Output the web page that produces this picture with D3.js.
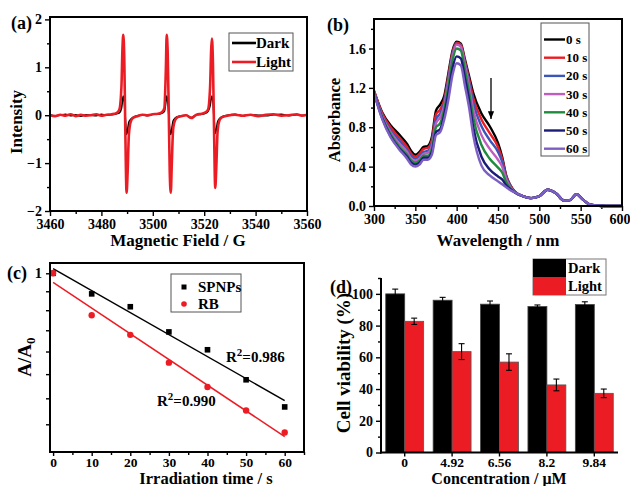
<!DOCTYPE html>
<html><head><meta charset="utf-8">
<script src="https://cdn.jsdelivr.net/npm/d3@7"></script>
<style>
body{margin:0;background:#fff}
svg{display:block;background:#fff}
text{font-family:"Liberation Serif","Times New Roman",serif;font-weight:bold;fill:#000}
</style></head><body>
<svg id="chart" width="630" height="486"></svg>
<script>
// ---------- Panel (a): EPR spectra ----------
const eprField = [3460,3462,3464,3466,3468,3470,3472,3474,3476,3478,3480,3482,3484,3486,3487,3487.8,3488.2,3488.5,3488.9,3489.3,3489.8,3490.2,3490.7,3491.5,3492.5,3494,3496,3498,3500,3502,3503.5,3504.5,3505.1,3505.4,3505.8,3506.2,3506.6,3507.0,3507.4,3507.9,3508.7,3509.7,3511,3513,3515,3516,3517,3519,3520.5,3521.5,3522.3,3522.7,3523.0,3523.4,3523.8,3524.3,3524.7,3525.2,3526,3527,3529,3532,3535,3538,3541,3544,3547,3550,3553,3556,3558,3560];
const eprLight = [0.0,-0.02,0.01,-0.01,0.02,-0.02,0.01,-0.01,0.0,0.02,-0.01,0.01,0.02,0.05,0.12,0.6,1.4,1.68,1.2,-0.3,-1.62,-1.2,-0.4,-0.12,-0.05,-0.02,0.01,0.0,0.02,0.03,0.06,0.15,1.0,1.68,1.3,0.1,-1.2,-1.62,-1.0,-0.3,-0.1,-0.04,-0.02,0.0,-0.06,-0.03,0.01,0.03,0.06,0.12,0.6,1.35,1.6,1.1,-0.2,-1.52,-1.1,-0.35,-0.1,-0.04,-0.01,0.01,-0.01,0.01,-0.02,0.01,0.02,-0.01,0.0,0.02,-0.01,0.01];
const eprDark = [0.01,-0.01,0.0,0.02,-0.01,0.01,-0.02,0.01,0.0,-0.01,0.02,0.0,0.01,0.03,0.05,0.14,0.3,0.4,0.28,-0.05,-0.4,-0.3,-0.14,-0.08,-0.04,-0.01,0.01,-0.01,0.02,0.02,0.04,0.08,0.28,0.4,0.3,0.02,-0.3,-0.4,-0.28,-0.12,-0.06,-0.03,-0.01,0.0,-0.05,-0.02,0.01,0.02,0.04,0.08,0.2,0.34,0.4,0.28,-0.05,-0.38,-0.3,-0.14,-0.07,-0.03,0.0,0.02,-0.01,0.01,0.0,-0.01,0.01,0.02,-0.01,0.01,0.0,0.0];
const eprXTicks = [3460,3480,3500,3520,3540,3560];
const eprYTicks = [-2,-1,0,1,2];

// ---------- Panel (b): UV-vis spectra ----------
const uvWavelength = [300,310,320,330,340,345,350,355,360,365,370,375,380,385,390,395,400,405,410,415,420,430,440,450,455,460,465,470,480,490,500,510,520,530,537,545,552,560,570,580,590,600];
const uvLabels = ["0 s","10 s","20 s","30 s","40 s","50 s","60 s"];
const uv0  = [1.17,0.95,0.82,0.73,0.63,0.56,0.52,0.55,0.60,0.61,0.70,0.97,1.03,1.12,1.35,1.58,1.67,1.65,1.49,1.32,1.15,0.94,0.81,0.64,0.50,0.31,0.21,0.15,0.10,0.08,0.10,0.165,0.13,0.055,0.06,0.12,0.07,0.02,0.005,0,0,0];
const uv10 = [1.17,0.94,0.80,0.70,0.60,0.53,0.50,0.53,0.58,0.59,0.67,0.93,0.98,1.08,1.32,1.56,1.66,1.64,1.47,1.29,1.10,0.88,0.74,0.60,0.48,0.30,0.21,0.15,0.10,0.08,0.10,0.165,0.13,0.055,0.06,0.12,0.07,0.02,0.005,0,0,0];
const uv20 = [1.16,0.92,0.77,0.67,0.57,0.51,0.48,0.50,0.55,0.56,0.64,0.88,0.94,1.05,1.29,1.54,1.65,1.62,1.45,1.26,1.05,0.81,0.67,0.55,0.45,0.29,0.20,0.15,0.10,0.08,0.10,0.165,0.13,0.055,0.06,0.12,0.07,0.02,0.005,0,0,0];
const uv30 = [1.16,0.91,0.75,0.64,0.55,0.48,0.46,0.48,0.53,0.54,0.61,0.84,0.90,1.02,1.26,1.52,1.64,1.62,1.43,1.22,0.98,0.72,0.58,0.47,0.40,0.27,0.19,0.14,0.10,0.08,0.10,0.165,0.13,0.055,0.06,0.12,0.07,0.02,0.005,0,0,0];
const uv40 = [1.15,0.90,0.73,0.61,0.52,0.46,0.44,0.46,0.51,0.51,0.58,0.80,0.84,0.98,1.22,1.48,1.60,1.58,1.38,1.16,0.90,0.62,0.48,0.39,0.34,0.24,0.18,0.14,0.10,0.08,0.10,0.165,0.13,0.055,0.06,0.12,0.07,0.02,0.005,0,0,0];
const uv50 = [1.15,0.89,0.71,0.59,0.50,0.44,0.42,0.44,0.49,0.49,0.55,0.75,0.78,0.93,1.15,1.40,1.52,1.50,1.30,1.08,0.80,0.50,0.37,0.30,0.27,0.21,0.17,0.14,0.10,0.08,0.10,0.165,0.13,0.055,0.06,0.12,0.07,0.02,0.005,0,0,0];
const uv60 = [1.15,0.88,0.70,0.58,0.48,0.42,0.40,0.42,0.47,0.47,0.52,0.72,0.75,0.88,1.08,1.33,1.45,1.43,1.22,1.00,0.72,0.41,0.31,0.25,0.22,0.19,0.16,0.14,0.10,0.08,0.10,0.165,0.13,0.055,0.06,0.12,0.07,0.02,0.005,0,0,0];
const uvColors = ["#000000","#ec1c24","#3c55b8","#c05ec0","#1e8c3c","#1c1c78","#7d5fc4"];
const uvXTicks = [300,350,400,450,500,550,600];
const uvYTicks = [0,0.4,0.8,1.2,1.6];

// ---------- Panel (c): kinetics ----------
const timeC = [0,10,20,30,40,50,60];
const spnps = [1,0.943,0.909,0.846,0.804,0.738,0.683];
const rb = [1,0.887,0.839,0.775,0.723,0.676,0.635];
const kinXTicks = [0,10,20,30,40,50,60];
const kinYTicks = [1,0.95,0.9,0.85,0.8,0.75,0.7,0.65];
const r2Labels = ["0.986","0.990"];

// ---------- Panel (d): cell viability ----------
const conc = ["0","4.92","6.56","8.2","9.84"];
const darkVal = [100,96,93.5,92,93.3];
const darkErr = [3,1.8,2,1,1.7];
const lightVal = [82.7,63.6,57,42.6,37.3];
const lightErr = [2,5,5.2,3.7,2.7];
const cellYTicks = [0,20,40,60,80,100];

const svg = d3.select("#chart");
const RED = "#ec1c24";

function styleAxis(g, size, fs){
  g.select(".domain").remove();
  g.selectAll(".tick line").attr("stroke","#000").attr("stroke-width",1.4);
  g.selectAll(".tick text").style("font-size",fs+"px").style("font-family",'"Liberation Serif","Times New Roman",serif').style("font-weight","bold");
}
function frame(x0,y0,x1,y1){
  svg.append("rect").attr("x",x0).attr("y",y0).attr("width",x1-x0).attr("height",y1-y0)
    .attr("fill","none").attr("stroke","#000").attr("stroke-width",2);
}
function txt(x,y,s,fs,anchor,rot){
  const t = svg.append("text").attr("x",x).attr("y",y).style("font-size",fs+"px").attr("text-anchor",anchor||"start").text(s);
  if(rot) t.attr("transform",`rotate(-90,${x},${y})`);
  return t;
}
function minorRange(a,b,step){const r=[];for(let v=a;v<=b+1e-9;v+=step)r.push(+v.toFixed(6));return r;}

// ===== Panel (a) =====
{
  const x = d3.scaleLinear().domain([3460,3560]).range([50,307]);
  const y = d3.scaleLinear().domain([-2,2.05]).range([211,17]);
  const gx = svg.append("g").attr("transform","translate(0,211)")
    .call(d3.axisBottom(x).tickValues(eprXTicks).tickFormat(d3.format("d")).tickSize(5).tickPadding(3));
  styleAxis(gx,5,14);
  const gxm = svg.append("g").attr("transform","translate(0,211)")
    .call(d3.axisBottom(x).tickValues(minorRange(3470,3550,20)).tickFormat("").tickSize(3));
  styleAxis(gxm,3,14);
  const gy = svg.append("g").attr("transform","translate(50,0)")
    .call(d3.axisLeft(y).tickValues(eprYTicks).tickFormat(d3.format("d")).tickSize(5).tickPadding(3));
  styleAxis(gy,5,14);
  const gym = svg.append("g").attr("transform","translate(50,0)")
    .call(d3.axisLeft(y).tickValues([-1.5,-0.5,0.5,1.5]).tickFormat("").tickSize(3));
  styleAxis(gym,3,14);
  const line = d3.line().x((d,i)=>x(eprField[i])).y(d=>y(d)).curve(d3.curveMonotoneX);
  svg.append("path").datum(eprDark).attr("d",line).attr("fill","none").attr("stroke","#000").attr("stroke-width",1.6);
  svg.append("path").datum(eprLight).attr("d",line).attr("fill","none").attr("stroke",RED).attr("stroke-width",2.6);
  frame(50,17,307,211);
  svg.append("rect").attr("x",229).attr("y",33).attr("width",64).attr("height",38).attr("fill","#fff").attr("stroke","#555").attr("stroke-width",1);
  [["Dark","#000"],["Light",RED]].forEach((d,i)=>{
    const yy = 43+i*19;
    svg.append("line").attr("x1",232).attr("x2",256).attr("y1",yy).attr("y2",yy).attr("stroke",d[1]).attr("stroke-width",2.6);
    txt(256,yy+5,d[0],15);
  });
  txt(11,29,"(a)",18);
  txt(22,122,"Intensity",17,"middle",true);
  txt(178,246,"Magnetic Field / G",17,"middle");
}

// ===== Panel (b) =====
{
  const x = d3.scaleLinear().domain([300,600]).range([374,622]);
  const y = d3.scaleLinear().domain([0,1.9]).range([206,19]);
  const gx = svg.append("g").attr("transform","translate(0,206)")
    .call(d3.axisBottom(x).tickValues(uvXTicks).tickFormat(d3.format("d")).tickSize(5).tickPadding(3));
  styleAxis(gx,5,14);
  gx.selectAll(".tick text").filter(d=>d===600).attr("text-anchor","end").attr("dx","8");
  const gxm = svg.append("g").attr("transform","translate(0,206)")
    .call(d3.axisBottom(x).tickValues(minorRange(325,575,50)).tickFormat("").tickSize(3));
  styleAxis(gxm,3,14);
  const gy = svg.append("g").attr("transform","translate(374,0)")
    .call(d3.axisLeft(y).tickValues(uvYTicks).tickFormat(d3.format(".1f")).tickSize(5).tickPadding(3));
  styleAxis(gy,5,14);
  const gym = svg.append("g").attr("transform","translate(374,0)")
    .call(d3.axisLeft(y).tickValues([0.2,0.6,1.0,1.4,1.8]).tickFormat("").tickSize(3));
  styleAxis(gym,3,14);
  const series = [uv0,uv10,uv20,uv30,uv40,uv50,uv60];
  const line = d3.line().x((d,i)=>x(uvWavelength[i])).y(d=>y(d)).curve(d3.curveMonotoneX);
  series.forEach((s,k)=>{
    svg.append("path").datum(s).attr("d",line).attr("fill","none").attr("stroke",uvColors[k]).attr("stroke-width",2.4);
  });
  frame(374,19,622,206);
  svg.append("defs").append("marker").attr("id","ah").attr("viewBox","0 0 10 10").attr("refX",10).attr("refY",5)
    .attr("markerWidth",6).attr("markerHeight",6).attr("orient","auto")
    .append("path").attr("d","M0,1 L10,5 L0,9 Z").attr("fill","#000");
  svg.append("line").attr("x1",491).attr("x2",491).attr("y1",78).attr("y2",119).attr("stroke","#000").attr("stroke-width",1.3).attr("marker-end","url(#ah)");
  svg.append("rect").attr("x",541).attr("y",23).attr("width",48).attr("height",133).attr("fill","#fff").attr("stroke","#555").attr("stroke-width",1);
  uvLabels.forEach((l,k)=>{
    const yy = 39.5+k*18.2;
    svg.append("line").attr("x1",544).attr("x2",565).attr("y1",yy).attr("y2",yy).attr("stroke",uvColors[k]).attr("stroke-width",2.4);
    txt(566,yy+4.5,l,13);
  });
  txt(327,31,"(b)",18);
  txt(340,120,"Absorbance",16.5,"middle",true);
  txt(498,246,"Wavelength / nm",17,"middle");
}

// ===== Panel (c) =====
{
  const x = d3.scaleLinear().domain([-0.8,65]).range([50,304]);
  const y = d3.scaleLog().domain([0.6006,1.0298]).range([452,263]);
  const gx = svg.append("g").attr("transform","translate(0,452)")
    .call(d3.axisBottom(x).tickValues(kinXTicks).tickFormat(d3.format("d")).tickSize(4).tickPadding(1));
  styleAxis(gx,4,13.5);
  const gxm = svg.append("g").attr("transform","translate(0,452)")
    .call(d3.axisBottom(x).tickValues(minorRange(5,65,10)).tickFormat("").tickSize(3));
  styleAxis(gxm,3,14);
  const gy = svg.append("g").attr("transform","translate(50,0)")
    .call(d3.axisLeft(y).tickValues(kinYTicks).tickFormat(d=>d===1?"1":"").tickSize(4).tickPadding(4));
  styleAxis(gy,4,14.5);
  function fit(vals){
    const ly = vals.map(v=>Math.log10(v));
    const mx = d3.mean(timeC), my = d3.mean(ly);
    const b = d3.sum(timeC.map((t,i)=>(t-mx)*(ly[i]-my)))/d3.sum(timeC.map(t=>(t-mx)*(t-mx)));
    const a = my-b*mx;
    return [0,60].map(t=>[t,Math.pow(10,a+b*t)]);
  }
  const fl = d3.line().x(d=>x(d[0])).y(d=>y(d[1]));
  svg.append("path").datum(fit(spnps)).attr("d",fl).attr("stroke","#000").attr("stroke-width",1.5).attr("fill","none");
  svg.append("path").datum(fit(rb)).attr("d",fl).attr("stroke",RED).attr("stroke-width",1.5).attr("fill","none");
  svg.selectAll(".sq").data(spnps).enter().append("rect")
    .attr("x",(d,i)=>x(timeC[i])-2.8).attr("y",d=>y(d)-2.8).attr("width",5.6).attr("height",5.6).attr("fill","#000");
  svg.selectAll(".ci").data(rb).enter().append("circle")
    .attr("cx",(d,i)=>x(timeC[i])).attr("cy",d=>y(d)).attr("r",3.2).attr("fill",RED);
  frame(50,263,304,452);
  svg.append("rect").attr("x",171).attr("y",274).attr("width",70).attr("height",38).attr("fill","#fff").attr("stroke","#555").attr("stroke-width",1);
  svg.append("rect").attr("x",181.5).attr("y",284.5).attr("width",5).attr("height",5).attr("fill","#000");
  svg.append("circle").attr("cx",184).attr("cy",304).attr("r",2.8).attr("fill",RED);
  txt(198,292,"SPNPs",15);
  txt(198,309,"RB",15);
  const r1 = txt(226,362,"R",15); r1.append("tspan").attr("dy",-6).style("font-size","11px").text("2"); r1.append("tspan").attr("dy",6).text("="+r2Labels[0]);
  const r2 = txt(157,406,"R",15); r2.append("tspan").attr("dy",-6).style("font-size","11px").text("2"); r2.append("tspan").attr("dy",6).text("="+r2Labels[1]);
  txt(7,279,"(c)",18);
  const at = txt(31,357,"A/A",19,"middle",true);
  at.append("tspan").attr("dy",4).style("font-size","13px").text("0");
  txt(206,483.5,"Irradiation time / s",16.5,"middle");
}

// ===== Panel (d) =====
{
  const x = d3.scaleBand().domain(conc).range([381,618]).paddingInner(0.2).paddingOuter(0.1);
  const x1 = d3.scaleBand().domain(["Dark","Light"]).range([0,x.bandwidth()]);
  const y = d3.scaleLinear().domain([0,110]).range([452.5,278]);
  const g = svg.append("g");
  conc.forEach((c,i)=>{
    g.append("rect").attr("x",x(c)+x1("Dark")).attr("y",y(darkVal[i])).attr("width",x1.bandwidth()).attr("height",y(0)-y(darkVal[i]))
      .attr("fill","#000").attr("stroke","#444").attr("stroke-width",0.8);
    g.append("rect").attr("x",x(c)+x1("Light")).attr("y",y(lightVal[i])).attr("width",x1.bandwidth()).attr("height",y(0)-y(lightVal[i]))
      .attr("fill",RED).attr("stroke","#555").attr("stroke-width",0.8);
    [[x1("Dark"),darkVal[i],darkErr[i]],[x1("Light"),lightVal[i],lightErr[i]]].forEach(e=>{
      const cx = x(c)+e[0]+x1.bandwidth()/2;
      g.append("line").attr("x1",cx).attr("x2",cx).attr("y1",y(e[1]+e[2])).attr("y2",y(e[1]-e[2])).attr("stroke","#000").attr("stroke-width",1.1);
      [e[1]+e[2],e[1]-e[2]].forEach(v=>g.append("line").attr("x1",cx-3).attr("x2",cx+3).attr("y1",y(v)).attr("y2",y(v)).attr("stroke","#000").attr("stroke-width",1.1));
    });
  });
  const gy = svg.append("g").attr("transform","translate(381,0)")
    .call(d3.axisLeft(y).tickValues(cellYTicks).tickFormat(d3.format("d")).tickSize(5).tickPadding(3));
  styleAxis(gy,5,14);
  const gym = svg.append("g").attr("transform","translate(381,0)")
    .call(d3.axisLeft(y).tickValues(minorRange(10,110,20)).tickFormat("").tickSize(3));
  styleAxis(gym,3,14);
  const gx = svg.append("g").attr("transform","translate(0,452.5)")
    .call(d3.axisBottom(x).tickSize(4).tickPadding(1));
  styleAxis(gx,4,13.5);
  svg.append("line").attr("x1",381).attr("x2",381).attr("y1",278).attr("y2",453.5).attr("stroke","#000").attr("stroke-width",2);
  svg.append("line").attr("x1",380).attr("x2",618).attr("y1",452.5).attr("y2",452.5).attr("stroke","#000").attr("stroke-width",2);
  svg.append("rect").attr("x",533).attr("y",259).attr("width",73).attr("height",36).attr("fill","#fff").attr("stroke","#777").attr("stroke-width",1);
  svg.append("rect").attr("x",533).attr("y",259).attr("width",33).attr("height",18).attr("fill","#000");
  svg.append("rect").attr("x",533).attr("y",277).attr("width",33).attr("height",18).attr("fill",RED);
  txt(568,273,"Dark",14.5);
  txt(568,291,"Light",14.5);
  txt(330,293,"(d)",18);
  txt(350,363,"Cell viability (%)",19,"middle",true);
  txt(499,483.5,"Concentration / \u03bcM",16,"middle");
}
</script></body></html>
